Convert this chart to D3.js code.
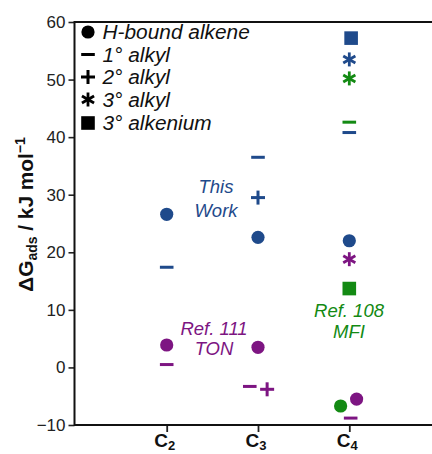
<!DOCTYPE html>
<html><head><meta charset="utf-8">
<script src="https://cdn.jsdelivr.net/npm/d3@7"></script>
<style>html,body{margin:0;padding:0;background:#fff;}svg{display:block;font-family:"Liberation Sans",Arial,sans-serif;}</style>
</head><body>
<script>
const categories = ["C2", "C3", "C4"];
const yTicks = [-10, 0, 10, 20, 30, 40, 50, 60];
// [category, species, ΔG (kJ/mol), dodge (fraction of category step)]
const thisWork = [
  ["C2", "alkene", 26.6, 0],
  ["C2", "primary", 17.4, 0],
  ["C3", "primary", 36.5, 0],
  ["C3", "secondary", 29.5, 0],
  ["C3", "alkene", 22.6, 0],
  ["C4", "alkenium", 57.2, 0.02],
  ["C4", "tertiary", 53.5, 0],
  ["C4", "primary", 40.8, 0],
  ["C4", "alkene", 22.0, 0]
];
const refMFI = [
  ["C4", "tertiary", 50.2, 0],
  ["C4", "primary", 42.6, 0],
  ["C4", "alkenium", 13.7, 0],
  ["C4", "alkene", -6.7, -0.095]
];
const refTON = [
  ["C2", "alkene", 3.9, 0],
  ["C2", "primary", 0.5, 0],
  ["C3", "alkene", 3.5, 0],
  ["C3", "primary", -3.3, -0.09],
  ["C3", "secondary", -3.8, 0.1],
  ["C4", "tertiary", 18.8, 0],
  ["C4", "alkene", -5.5, 0.08],
  ["C4", "primary", -8.8, 0.015]
];
const legendTypes = ["alkene", "primary", "secondary", "tertiary", "alkenium"];
const legendLabels = ["H-bound alkene", "1° alkyl", "2° alkyl", "3° alkyl", "3° alkenium"];
const seriesColors = {thisWork: "#1f4a8b", refMFI: "#138a13", refTON: "#7d1582"};

const W = 432, H = 454;
const mLeft = 74.5, mTop = 22, mBottom = 425;
const svg = d3.select("body").append("svg").attr("width", W).attr("height", H);

const x = d3.scalePoint().domain(categories).range([166.7, 349.3]);
const step = x.step();
const y = d3.scaleLinear().domain([-10, 60]).range([mBottom, mTop]);

// axes
const yAxis = d3.axisLeft(y).tickValues(yTicks).tickSize(6).tickPadding(3)
  .tickFormat(d => d < 0 ? "\u2212" + Math.abs(d) : d);
const gy = svg.append("g").attr("transform", `translate(${mLeft},0)`).call(yAxis);
gy.select(".domain").remove();
gy.selectAll("line").attr("stroke", "#222").attr("stroke-width", 1.6);
gy.selectAll("text").attr("font-size", 17).attr("fill", "#222").attr("font-family", "Liberation Sans, Arial, sans-serif");

const xAxis = d3.axisBottom(x).tickSize(7).tickFormat("");
const gx = svg.append("g").attr("transform", `translate(0,${mBottom})`).call(xAxis);
gx.select(".domain").remove();
gx.selectAll("line").attr("stroke", "#222").attr("stroke-width", 1.8);
const xl = svg.append("g").selectAll("text").data(categories).join("text")
  .attr("x", d => x(d) - 2).attr("y", 447).attr("text-anchor", "middle")
  .attr("font-size", 19).attr("font-weight", "bold").attr("fill", "#111");
xl.append("tspan").text(d => d[0]);
xl.append("tspan").attr("font-size", 13).attr("dy", 3).text(d => d.slice(1));

// frame lines
svg.append("line").attr("x1", mLeft).attr("x2", mLeft).attr("y1", mTop - 1).attr("y2", mBottom + 1).attr("stroke", "#111").attr("stroke-width", 2);
svg.append("line").attr("x1", mLeft).attr("x2", W).attr("y1", mTop).attr("y2", mTop).attr("stroke", "#111").attr("stroke-width", 2);
svg.append("line").attr("x1", mLeft).attr("x2", W).attr("y1", mBottom).attr("y2", mBottom).attr("stroke", "#111").attr("stroke-width", 2);

// y title
const yt = svg.append("text").attr("transform", `translate(33,214.5) rotate(-90)`)
  .attr("text-anchor", "middle").attr("font-size", 20.8).attr("font-weight", "bold").attr("fill", "#111");
yt.append("tspan").text("\u0394G");
yt.append("tspan").attr("font-size", 14).attr("dy", 4).text("ads");
yt.append("tspan").attr("dy", -4).text(" / kJ mol");
yt.append("tspan").attr("font-size", 14).attr("dy", -8).text("\u22121");

function marker(g, type, color) {
  if (type === "alkene") {
    g.append("circle").attr("r", 6.6).attr("fill", color);
  } else if (type === "primary") {
    g.append("rect").attr("x", -6.8).attr("y", -1.5).attr("width", 13.6).attr("height", 3).attr("fill", color);
  } else if (type === "secondary") {
    g.append("rect").attr("x", -7).attr("y", -1.5).attr("width", 14).attr("height", 3).attr("fill", color);
    g.append("rect").attr("x", -1.5).attr("y", -7).attr("width", 3).attr("height", 14).attr("fill", color);
  } else if (type === "tertiary") {
    [90, 30, 150].forEach(a => {
      const r = a * Math.PI / 180, L = 7;
      g.append("line").attr("x1", -L * Math.cos(r)).attr("y1", -L * Math.sin(r))
        .attr("x2", L * Math.cos(r)).attr("y2", L * Math.sin(r))
        .attr("stroke", color).attr("stroke-width", 2.8);
    });
  } else if (type === "alkenium") {
    g.append("rect").attr("x", -6.8).attr("y", -6.8).attr("width", 13.6).attr("height", 13.6).attr("fill", color);
  }
}

function drawSeries(data, color) {
  data.forEach(([cat, type, v, dodge]) => {
    const g = svg.append("g").attr("transform", `translate(${x(cat) + dodge * step},${y(v)})`);
    marker(g, type, color);
  });
}
drawSeries(thisWork, seriesColors.thisWork);
drawSeries(refMFI, seriesColors.refMFI);
drawSeries(refTON, seriesColors.refTON);

// legend
const legendY = [32, 54.5, 77, 99.5, 123];
legendTypes.forEach((t, i) => {
  const g = svg.append("g").attr("transform", `translate(88,${legendY[i]})`);
  marker(g, t, "#000");
  svg.append("text").attr("transform", `translate(102.5,${legendY[i] + 7}) scale(1.07,1)`).attr("font-size", 19.5)
    .attr("font-style", "italic").attr("fill", "#111").text(legendLabels[i]);
});

// annotations
function note(lines, cx, y0, dy, color) {
  lines.forEach((s, i) => {
    svg.append("text").attr("x", cx).attr("y", y0 + i * dy).attr("text-anchor", "middle")
      .attr("font-size", 18.5).attr("font-style", "italic").attr("fill", color).text(s);
  });
}
note(["This", "Work"], 216, 193, 24, seriesColors.thisWork);
note(["Ref. 111", "TON"], 214, 335, 19.5, seriesColors.refTON);
note(["Ref. 108", "MFI"], 349, 317, 21, seriesColors.refMFI);
</script>
</body></html>
